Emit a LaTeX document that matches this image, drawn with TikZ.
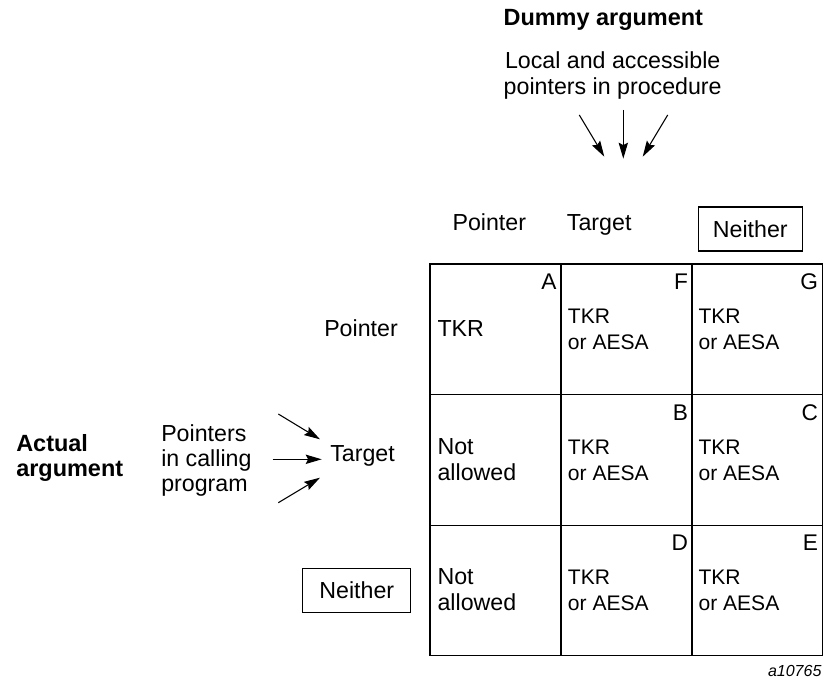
\documentclass[tikz,border=0pt]{standalone}
\usepackage{fontspec}
\setmainfont{Liberation Sans}
\usetikzlibrary{arrows.meta}
\begin{document}
\begin{tikzpicture}[x=0.75pt,y=-0.75pt,
  txt/.style={inner sep=0pt,font=\fontsize{17.4}{19.5}\selectfont},
  btxt/.style={inner sep=0pt,font=\fontsize{17.6}{18.75}\selectfont\bfseries},
  ctxt/.style={inner sep=0pt,align=left,anchor=base west,font=\fontsize{15.8}{19.5}\selectfont},
  btext/.style={inner sep=0pt,align=left,anchor=base west,font=\fontsize{17.4}{19.5}\selectfont},
  corner/.style={inner sep=0pt,anchor=base east,font=\fontsize{17}{19}\selectfont},
  boxed/.style={draw,line width=0.8pt,inner sep=0pt,minimum height=33pt,font=\fontsize{17.4}{19.5}\selectfont},
  arr/.style={line width=0.8pt,-{Stealth[length=12pt,width=7pt,inset=1.8pt]}},
  gridline/.style={line width=0.8pt}
]
\useasboundingbox (0,0) rectangle (825,681);

% top labels
\node[btxt,anchor=base west] (dummy) at (503.3,26) {Dummy argument};
\node[inner sep=0pt,align=center,anchor=base,font=\fontsize{17.4}{20}\selectfont] (local) at (612.7,95) {Local and accessible\\pointers in procedure};

\coordinate (t1s) at (579.3,115);
\coordinate (t1e) at (604.3,156.7);
\coordinate (t2s) at (623.3,110);
\coordinate (t2e) at (623.3,158.7);
\coordinate (t3s) at (667.7,115);
\coordinate (t3e) at (642.7,156.7);
\draw[arr] (t1s) -- (t1e);
\draw[arr] (t2s) -- (t2e);
\draw[arr] (t3s) -- (t3e);

\node[txt,anchor=base west] (colP) at (452.3,230) {Pointer};
\node[txt,anchor=base west] (colT) at (566.7,230) {Target};
\node[boxed,minimum width=78pt] (colN) at (750.3,229) {Neither};

% left labels
\node[btxt,align=left,anchor=base west] (actual) at (16,476.7) {Actual\\argument};
\node[inner sep=0pt,align=left,anchor=base west,font=\fontsize{17.4}{18.75}\selectfont] (ptrs) at (161,491.7) {Pointers\\in calling\\program};

\coordinate (l1s) at (278.3,414);
\coordinate (l1e) at (320,439.3);
\coordinate (l2s) at (272.7,459.3);
\coordinate (l2e) at (321.7,459.3);
\coordinate (l3s) at (278.3,502.7);
\coordinate (l3e) at (320,477.7);
\draw[arr] (l1s) -- (l1e);
\draw[arr] (l2s) -- (l2e);
\draw[arr] (l3s) -- (l3e);

\node[txt,anchor=base west] (rowP) at (324,336) {Pointer};
\node[txt,anchor=base west] (rowT) at (330,461) {Target};
\node[boxed,minimum width=81pt] (rowN) at (356.8,590.3) {Neither};

% grid
\draw[gridline] (430,264) rectangle (822.6,655.8);
\draw[gridline] (561,264) -- (561,655.8);
\draw[gridline] (692,264) -- (692,655.8);
\draw[gridline] (430,394.6) -- (822.6,394.6);
\draw[gridline] (430,525.2) -- (822.6,525.2);

% corner letters
\node[corner] (lA) at (556.7,289) {A};
\node[corner] (lF) at (688.3,289) {F};
\node[corner] (lG) at (818.3,289) {G};
\node[corner] (lB) at (688.3,420) {B};
\node[corner] (lC) at (818.3,420) {C};
\node[corner] (lD) at (688.3,550.5) {D};
\node[corner] (lE) at (818.3,550.5) {E};

% cell texts
\node[btext] (cA) at (437.3,336) {TKR};
\node[ctxt] (cF) at (567.7,349) {TKR\\or AESA};
\node[ctxt] (cG) at (698.3,349) {TKR\\or AESA};
\node[btext] (cN2) at (437.3,480) {Not\\allowed};
\node[ctxt] (cB) at (567.7,480) {TKR\\or AESA};
\node[ctxt] (cC) at (698.3,480) {TKR\\or AESA};
\node[btext] (cN3) at (437.3,610.7) {Not\\allowed};
\node[ctxt] (cD) at (567.7,610.7) {TKR\\or AESA};
\node[ctxt] (cE) at (698.3,610.7) {TKR\\or AESA};

\node[inner sep=0pt,anchor=base east,font=\fontsize{12}{14}\selectfont\itshape] (code) at (821.7,676.7) {a10765};
\end{tikzpicture}
\end{document}
